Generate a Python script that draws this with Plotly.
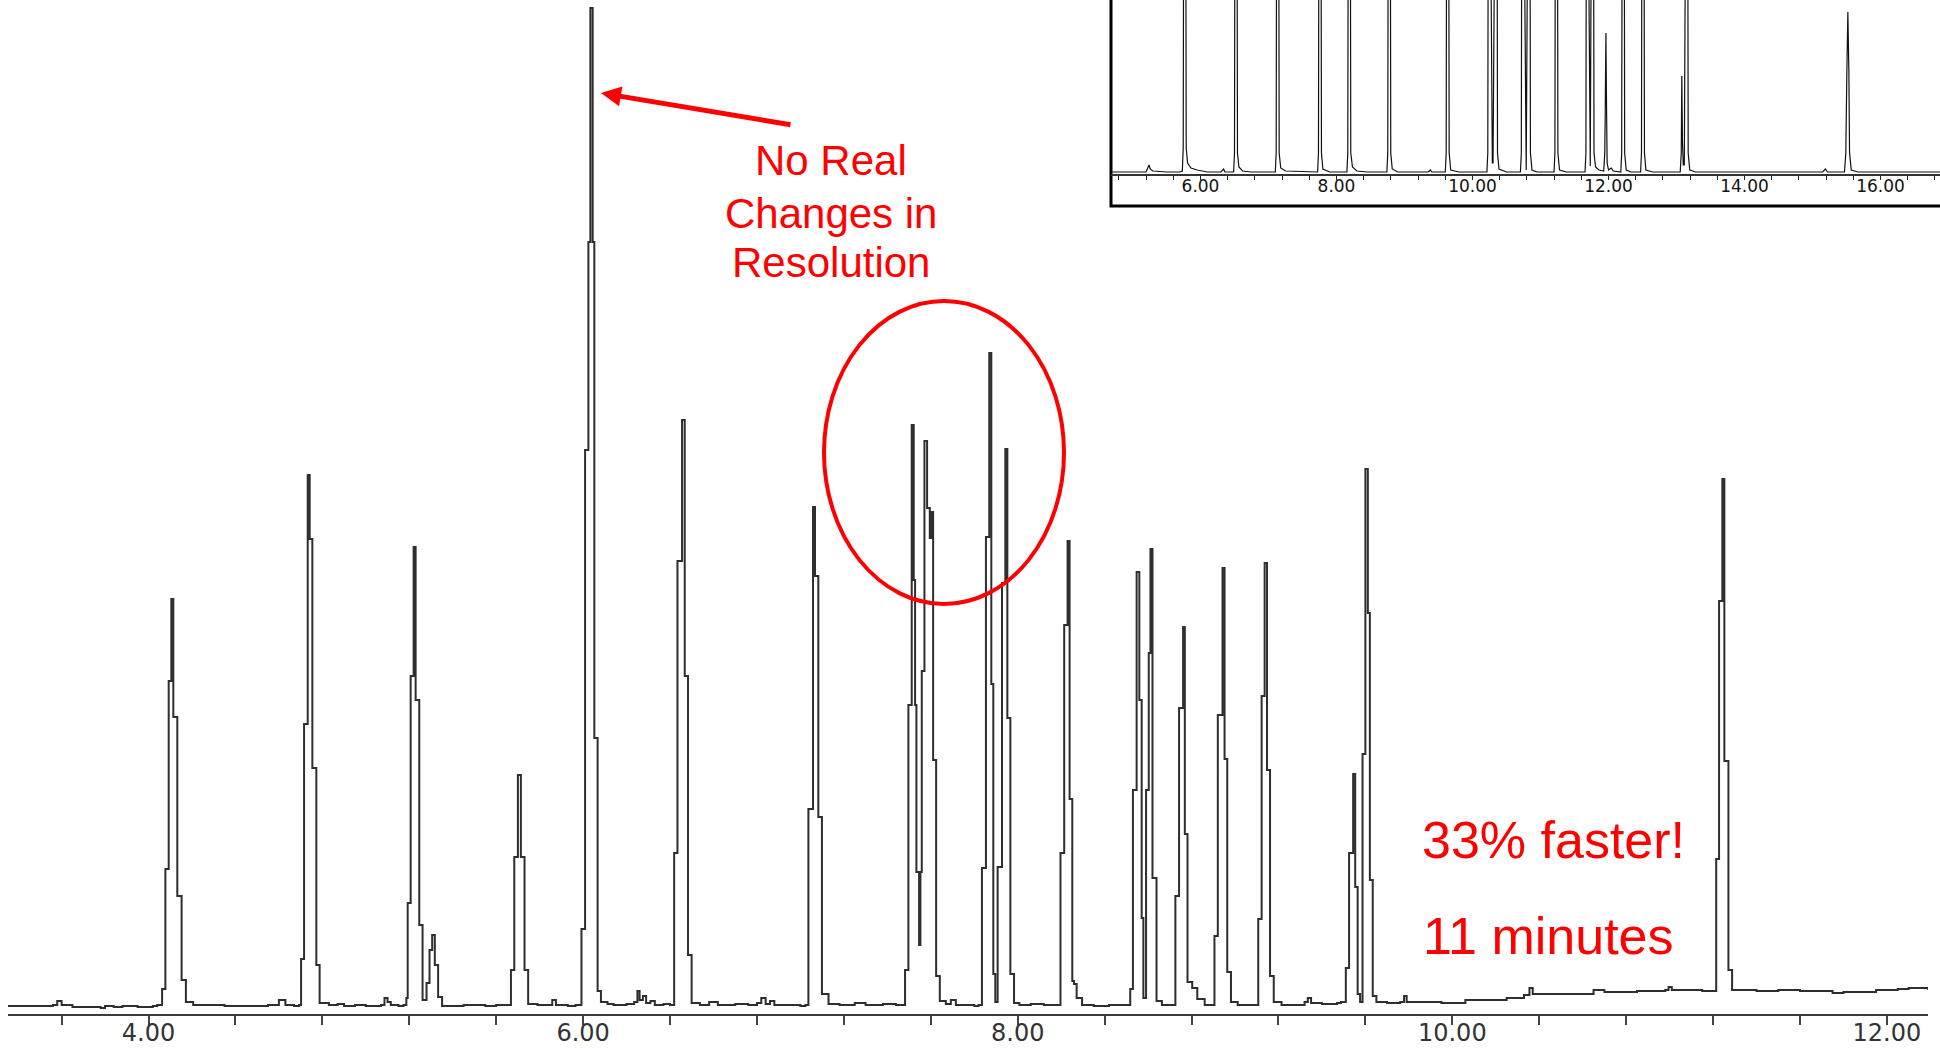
import plotly.graph_objects as go

# ---------------- data ----------------
# Main chromatogram (11 minute run): retention time [min] and detector signal
main_time = [
    3.353, 3.50, 3.56, 3.58, 3.60, 3.65, 3.78, 3.80, 3.84, 3.88, 3.95, 4.02, 4.04,
    4.053, 4.0625, 4.0777, 4.0929, 4.1051, 4.1142, 4.1325, 4.1523, 4.1721, 4.2056,
    4.35, 4.55, 4.60, 4.63, 4.67,
    4.6931, 4.7022, 4.7159, 4.7327, 4.7418, 4.7540, 4.7723, 4.7875, 4.8302,
    4.87, 4.90, 4.95, 5.00, 5.07, 5.086, 5.10, 5.115, 5.15,
    5.1729, 5.1866, 5.1927, 5.2064, 5.2201, 5.2293, 5.2460, 5.2612, 5.2795, 5.2932,
    5.3054, 5.3176, 5.3328, 5.3511,
    5.40, 5.45, 5.55, 5.60,
    5.6527, 5.6679, 5.6832, 5.6999, 5.7136, 5.7304, 5.7471, 5.7898,
    5.84, 5.858, 5.875, 5.93, 5.965,
    5.9757, 5.9924, 6.0091, 6.0243, 6.0334, 6.0440, 6.0516, 6.0668, 6.0820, 6.1123,
    6.14, 6.20, 6.235, 6.25, 6.26, 6.275, 6.29, 6.31, 6.33, 6.37, 6.40,
    6.4084, 6.4190, 6.4342, 6.4554, 6.4676, 6.4827, 6.4994, 6.5374,
    6.58, 6.62, 6.70, 6.76, 6.80, 6.82, 6.84, 6.86, 6.88, 6.95, 7.00,
    7.0232, 7.0368, 7.0581, 7.0672, 7.0824, 7.0991, 7.1294,
    7.18, 7.25, 7.30, 7.38, 7.44,
    7.4615, 7.4815, 7.4969, 7.5123, 7.5215, 7.5277, 7.5338, 7.5462, 7.5523, 7.5585,
    7.5708, 7.5831, 7.5954, 7.6015, 7.6108, 7.6246, 7.6415, 7.6692, 7.6923, 7.7154,
    7.76, 7.80,
    7.82, 7.8354, 7.8538, 7.8692, 7.8785, 7.8877, 7.8969, 7.9077, 7.9277, 7.9431,
    7.9523, 7.9662, 7.9831, 8.0077,
    8.06, 8.12, 8.17,
    8.1829, 8.1969, 8.2140, 8.2295, 8.2388, 8.2512, 8.2589, 8.2713, 8.2961,
    8.35, 8.42, 8.49,
    8.5039, 8.5178, 8.5302, 8.5473, 8.5597, 8.5705, 8.5783, 8.5907, 8.6031, 8.6109,
    8.6202, 8.6388, 8.6636,
    8.69,
    8.7101, 8.7256, 8.7426, 8.7612, 8.7690, 8.7814, 8.8031, 8.8264, 8.8605,
    8.88,
    8.8884, 8.9054, 8.9209, 8.9426, 8.9519, 8.9643, 8.9814, 9.0124,
    9.05, 9.08,
    9.0899, 9.1070, 9.1225, 9.1364, 9.1473, 9.1612, 9.1783, 9.2140,
    9.28, 9.32, 9.335, 9.35, 9.40, 9.47,
    9.4875, 9.51, 9.525, 9.5437, 9.5531, 9.5644, 9.5756, 9.5869, 9.60, 9.6113,
    9.6206, 9.6338, 9.6506,
    9.70, 9.76, 9.778, 9.79, 9.85, 9.95, 10.06, 10.15, 10.25, 10.33, 10.355, 10.37,
    10.43, 10.65, 10.70, 10.85, 10.98, 10.995, 11.01, 11.15, 11.19,
    11.1938, 11.2144, 11.2276, 11.2426, 11.2519, 11.2707, 11.2876,
    11.35, 11.40, 11.50, 11.60, 11.75, 11.80, 11.95, 12.05, 12.10, 12.19,
]
main_signal = [
    2, 2, 3, 7, 3, 1, 0, 2, 1, 2, 1, 2, 3,
    3, 19, 139, 327, 409, 291, 112, 28, 6, 3,
    2, 3, 8, 3, 2,
    3, 49, 284, 533, 469, 240, 43, 5, 3,
    4, 2, 3, 2, 3, 10, 6, 3, 2,
    3, 10, 105, 332, 461, 308, 83, 8, 25, 58,
    73, 43, 11, 2,
    2, 3, 2, 3,
    3, 38, 151, 233, 151, 38, 4, 3,
    3, 8, 3, 2, 3,
    3, 79, 558, 766, 1000, 766, 270, 17, 6, 4,
    3, 4, 6, 17, 8, 12, 5, 7, 3, 4, 3,
    3, 155, 447, 588, 332, 53, 5, 3,
    6, 3, 4, 3, 5, 10, 4, 7, 3, 3, 2,
    3, 199, 501, 432, 191, 14, 4,
    3, 5, 3, 4, 3,
    3, 38, 303, 583, 428, 303, 136, 63, 136, 337,
    567, 500, 470, 496, 248, 32, 7, 4, 8, 3,
    3, 2,
    3, 140, 471, 655, 324, 34, 6, 141, 425, 559,
    290, 34, 5, 3,
    4, 3, 3,
    3, 155, 383, 467, 209, 27, 24, 10, 3,
    2, 3, 3,
    3, 19, 218, 436, 308, 90, 10, 218, 355, 459,
    130, 7, 3,
    3,
    3, 112, 300, 381, 174, 26, 20, 9, 3,
    3,
    3, 72, 293, 440, 249, 36, 6, 3,
    3, 3,
    3, 89, 312, 445, 238, 32, 6, 3,
    3, 6, 10, 5, 4, 5,
    6, 40, 155, 234, 121, 14, 6, 254, 539, 395,
    128, 12, 6,
    5, 6, 12, 6, 6, 5, 8, 8, 10, 13, 20, 14,
    14, 18, 16, 17, 18, 21, 18, 17, 17,
    17, 149, 407, 529, 247, 38, 18,
    18, 17, 18, 17, 15, 16, 18, 19, 20, 18,
]

# Inset chromatogram (original, longer run); tall peaks run off the top
inset_time = [
    4.68, 5.10, 5.20, 5.243, 5.26, 5.30, 5.50, 5.70,
    5.733, 5.746, 5.753, 5.783, 5.790, 5.81, 5.86, 5.95, 6.10,
    6.30, 6.34, 6.36,
    6.487, 6.500, 6.507, 6.537, 6.544, 6.565, 6.62, 6.75,
    7.100, 7.113, 7.120, 7.150, 7.157, 7.18, 7.25,
    7.722, 7.735, 7.742, 7.772, 7.779, 7.80, 7.90,
    8.153, 8.166, 8.173, 8.203, 8.210, 8.235, 8.30, 8.45,
    8.741, 8.754, 8.761, 8.791, 8.798, 8.82, 8.90,
    9.35, 9.38, 9.40,
    9.600, 9.613, 9.620, 9.650, 9.657, 9.68, 9.80,
    10.212, 10.225, 10.232, 10.262, 10.292, 10.302, 10.331, 10.361, 10.368, 10.39, 10.50,
    10.705, 10.718, 10.725, 10.755, 10.78, 10.79, 10.815, 10.845, 10.852, 10.875, 10.95,
    11.199, 11.212, 11.219, 11.249, 11.256, 11.28, 11.38,
    11.655, 11.668, 11.675, 11.700, 11.722, 11.732, 11.750, 11.780, 11.787, 11.81, 11.86,
    11.93, 11.945, 11.952, 11.962, 11.972, 11.98, 12.00, 12.04, 12.07,
    12.181, 12.194, 12.201, 12.231, 12.238, 12.26, 12.33,
    12.472, 12.485, 12.492, 12.522, 12.529, 12.55, 12.65,
    13.055, 13.07, 13.078, 13.088, 13.10, 13.115, 13.135, 13.165, 13.172, 13.195, 13.28,
    13.50, 14.50, 15.15, 15.19, 15.22, 15.47,
    15.49, 15.505, 15.52, 15.535, 15.545, 15.57, 15.67, 16.88,
]
inset_signal = [
    1, 1, 1, 8, 4, 2, 1, 1,
    2, 25, 300, 300, 25, 10, 5, 3, 1,
    1, 4, 1,
    1, 20, 300, 300, 20, 6, 2, 1,
    1, 20, 300, 300, 20, 5, 2,
    1, 20, 300, 300, 20, 4, 1,
    1, 20, 300, 300, 20, 6, 2, 1,
    1, 20, 300, 300, 20, 4, 1,
    1, 3, 1,
    1, 20, 300, 300, 20, 3, 1,
    1, 20, 300, 300, 10, 10, 300, 300, 20, 4, 1,
    1, 20, 300, 300, 3, 3, 300, 300, 20, 3, 1,
    1, 20, 300, 300, 20, 3, 1,
    1, 20, 300, 300, 7, 7, 300, 300, 20, 6, 3,
    2, 20, 60, 140, 60, 10, 3, 5, 2,
    1, 20, 300, 300, 20, 3, 1,
    1, 20, 300, 300, 20, 3, 1,
    1, 20, 97, 30, 8, 8, 300, 300, 20, 3, 1,
    1, 1, 1, 4, 1, 1,
    20, 100, 161, 100, 20, 3, 1, 1,
]

main_tick_vals = [4, 6, 8, 10, 12]
main_tick_labels = ["4.00", "6.00", "8.00", "10.00", "12.00"]
inset_tick_vals = [6, 8, 10, 12, 14, 16]
inset_tick_labels = ["6.00", "8.00", "10.00", "12.00", "14.00", "16.00"]

note_lines = ["No Real", "Changes in", "Resolution"]
speed_lines = ["33% faster!", "11 minutes"]

# ---------------- figure ----------------
W, H = 1940, 1048
RED = "#FF0000"
ARIAL = "Liberation Sans, Arial, Helvetica, sans-serif"


def px(x):
    return x / W


def py(y):
    return 1 - y / H


fig = go.Figure()
fig.add_trace(go.Scatter(
    x=main_time, y=main_signal, mode="lines",
    line=dict(color="#2e2e2e", width=2, shape="hv"),
    xaxis="x", yaxis="y", hoverinfo="skip", showlegend=False,
))
fig.add_trace(go.Scatter(
    x=inset_time, y=inset_signal, mode="lines",
    line=dict(color="#111111", width=1.2),
    xaxis="x2", yaxis="y2", hoverinfo="skip", showlegend=False,
))

fig.update_layout(
    width=W, height=H,
    margin=dict(l=0, r=0, t=0, b=0, autoexpand=False),
    paper_bgcolor="white",
    plot_bgcolor="rgba(0,0,0,0)",
    showlegend=False,
    xaxis=dict(
        domain=[px(8), px(1928)], range=[3.3534, 12.1891], anchor="y",
        automargin=False,
        tickmode="array", tickvals=main_tick_vals, ticktext=main_tick_labels,
        ticks="outside", ticklen=9, tickwidth=2, tickcolor="#444444",
        ticklabelstandoff=-13,
        tickfont=dict(family="DejaVu Sans", size=24, color="#333333"),
        showline=True, linecolor="#3c3c3c", linewidth=2,
        showgrid=False, zeroline=False,
        minor=dict(ticks="outside", tickmode="linear", tick0=4, dtick=0.4,
                   ticklen=9, tickwidth=2, tickcolor="#444444", showgrid=False),
    ),
    yaxis=dict(
        domain=[34 / H, 1], range=[-6, 1008], anchor="x", automargin=False,
        visible=False, showgrid=False, zeroline=False,
    ),
    xaxis2=dict(
        domain=[px(1111), 1], range=[4.684, 16.875], anchor="y2",
        automargin=False,
        tickmode="array", tickvals=inset_tick_vals, ticktext=inset_tick_labels,
        ticks="outside", ticklen=4, tickwidth=1, tickcolor="#222222",
        ticklabelstandoff=-8,
        tickfont=dict(family="DejaVu Sans", size=17, color="#111111"),
        showline=True, linecolor="#333333", linewidth=1.5,
        showgrid=False, zeroline=False,
        minor=dict(ticks="outside", tickmode="linear", tick0=6, dtick=0.4,
                   ticklen=4, tickwidth=1, tickcolor="#222222", showgrid=False),
    ),
    yaxis2=dict(
        domain=[(H - 174) / H, 1], range=[-1, 173], anchor="x2", automargin=False,
        visible=False, showgrid=False, zeroline=False,
    ),
)

# inset frame (left and bottom edges visible, rest off the page)
fig.add_shape(type="rect", xref="paper", yref="paper",
              x0=px(1111), x1=1.03, y0=py(206), y1=1.03,
              line=dict(color="black", width=3), fillcolor="white", layer="below")

# red ellipse around the critical pairs
fig.add_shape(type="circle", xref="paper", yref="paper",
              x0=px(824), x1=px(1064), y0=py(604), y1=py(301),
              line=dict(color=RED, width=4))

# arrow to the tallest peak
fig.add_annotation(x=px(601), y=py(93), xref="paper", yref="paper",
                   ax=191, ay=32, axref="pixel", ayref="pixel",
                   text="", showarrow=True, arrowhead=2, arrowsize=0.8,
                   arrowwidth=5, arrowcolor=RED, standoff=0)

for txt, yc in zip(note_lines, [161, 213, 263]):
    fig.add_annotation(x=px(831), y=py(yc), xref="paper", yref="paper",
                       text=txt, showarrow=False, xanchor="center", yanchor="middle",
                       font=dict(family=ARIAL, size=42, color=RED))

for txt, xc, yc in zip(speed_lines, [1553, 1548], [840, 936]):
    fig.add_annotation(x=px(xc), y=py(yc), xref="paper", yref="paper",
                       text=txt, showarrow=False, xanchor="center", yanchor="middle",
                       font=dict(family=ARIAL, size=52, color=RED))

fig.write_html("out.html")
